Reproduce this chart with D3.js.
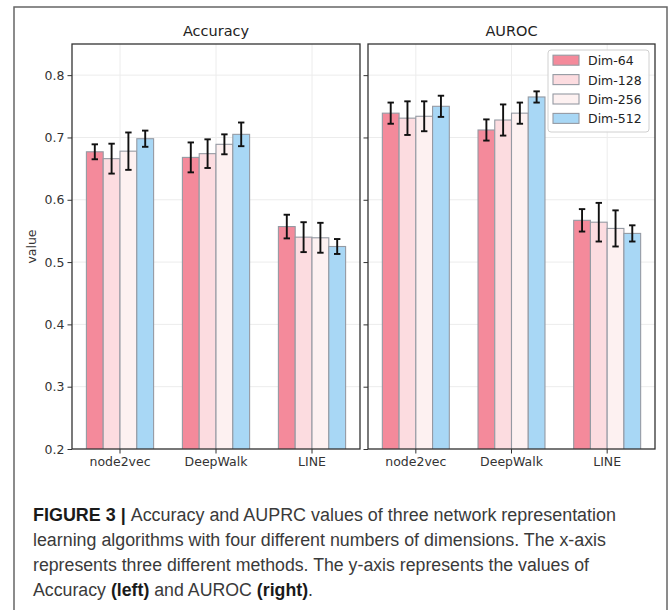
<!DOCTYPE html>
<html>
<head>
<meta charset="utf-8">
<script src="https://cdn.jsdelivr.net/npm/d3@7"></script>
<style>
  html, body { margin: 0; padding: 0; background: #fff; }
  svg { display: block; }
</style>
</head>
<body>
<svg id="chart" width="672" height="610"></svg>
<script>
// ---------- DATA ----------
const methods = ["node2vec", "DeepWalk", "LINE"];
const dims = ["Dim-64", "Dim-128", "Dim-256", "Dim-512"];
const yTicks = [0.2, 0.3, 0.4, 0.5, 0.6, 0.7, 0.8];
const panelTitles = ["Accuracy", "AUROC"];

// values per dimension, ordered as methods
const accuracyMean = {
  "Dim-64":  [0.677, 0.668, 0.557],
  "Dim-128": [0.666, 0.674, 0.540],
  "Dim-256": [0.678, 0.689, 0.539],
  "Dim-512": [0.698, 0.705, 0.525]
};
const accuracyErr = {
  "Dim-64":  [0.012, 0.024, 0.019],
  "Dim-128": [0.024, 0.023, 0.024],
  "Dim-256": [0.030, 0.016, 0.024],
  "Dim-512": [0.013, 0.019, 0.012]
};
const aurocMean = {
  "Dim-64":  [0.739, 0.712, 0.567],
  "Dim-128": [0.731, 0.728, 0.564],
  "Dim-256": [0.734, 0.739, 0.554],
  "Dim-512": [0.750, 0.765, 0.546]
};
const aurocErr = {
  "Dim-64":  [0.017, 0.017, 0.018],
  "Dim-128": [0.027, 0.025, 0.031],
  "Dim-256": [0.024, 0.017, 0.029],
  "Dim-512": [0.017, 0.009, 0.013]
};

const captionLines = [
  [["FIGURE 3 | ", true], ["Accuracy and AUPRC values of three network representation", false]],
  [["learning algorithms with four different numbers of dimensions. The x-axis", false]],
  [["represents three different methods. The y-axis represents the values of", false]],
  [["Accuracy ", false], ["(left)", true], [" and AUROC ", false], ["(right)", true], [".", false]]
];

// ---------- STYLE ----------
const colors = { "Dim-64": "#f48a9b", "Dim-128": "#fcdce0", "Dim-256": "#fdf1f1", "Dim-512": "#a8d7f5" };
const font = "'DejaVu Sans', sans-serif";

const svg = d3.select("#chart");

// outer figure frame
svg.append("rect")
  .attr("x", 14).attr("y", 7).attr("width", 653).attr("height", 640)
  .attr("fill", "none").attr("stroke", "#666").attr("stroke-width", 1.5);

const y = d3.scaleLinear().domain([0.2, 0.85]).range([449, 44]);

const panels = [
  { x0: 72, x1: 360, mean: accuracyMean, err: accuracyErr, title: panelTitles[0], labels: true, legend: false },
  { x0: 368, x1: 655, mean: aurocMean, err: aurocErr, title: panelTitles[1], labels: false, legend: true }
];

panels.forEach((p, pi) => {
  const g = svg.append("g");
  const clipId = "clip" + pi;
  svg.append("clipPath").attr("id", clipId)
    .append("rect").attr("x", p.x0).attr("y", y.range()[1]).attr("width", p.x1 - p.x0).attr("height", y.range()[0] - y.range()[1]);

  const x = d3.scaleBand().domain(methods).range([p.x0, p.x1]).padding(0);
  const bw = x.bandwidth();

  // grid
  const grid = g.append("g").attr("stroke", "#ececec").attr("stroke-width", 1);
  yTicks.forEach(t => {
    grid.append("line").attr("x1", p.x0).attr("x2", p.x1).attr("y1", y(t)).attr("y2", y(t));
  });
  methods.forEach(m => {
    const cx = x(m) + bw / 2;
    grid.append("line").attr("x1", cx).attr("x2", cx).attr("y1", y.range()[0]).attr("y2", y.range()[1]);
  });

  // bars
  const barsG = g.append("g").attr("clip-path", `url(#${clipId})`);
  methods.forEach((m, mi) => {
    const cx = x(m) + bw / 2;
    const inner = d3.scaleBand().domain(dims).range([cx - 0.35 * bw, cx + 0.35 * bw]).padding(0);
    dims.forEach(d => {
      const v = p.mean[d][mi];
      barsG.append("rect")
        .attr("x", inner(d)).attr("width", inner.bandwidth())
        .attr("y", y(v)).attr("height", y(0.15) - y(v))
        .attr("fill", colors[d]).attr("stroke", "#959aa3").attr("stroke-width", 1.1);
    });
    dims.forEach(d => {
      const v = p.mean[d][mi], e = p.err[d][mi];
      const ex = inner(d) + inner.bandwidth() / 2;
      const eg = barsG.append("g").attr("stroke", "#111").attr("stroke-width", 1.9);
      eg.append("line").attr("x1", ex).attr("x2", ex).attr("y1", y(v - e)).attr("y2", y(v + e));
      eg.append("line").attr("x1", ex - 3.2).attr("x2", ex + 3.2).attr("y1", y(v - e)).attr("y2", y(v - e));
      eg.append("line").attr("x1", ex - 3.2).attr("x2", ex + 3.2).attr("y1", y(v + e)).attr("y2", y(v + e));
    });
  });

  // axes
  const yAxis = d3.axisLeft(y).tickValues(yTicks).tickSize(4.5).tickPadding(3)
    .tickFormat(p.labels ? d3.format(".1f") : () => "");
  const ya = g.append("g").attr("transform", `translate(${p.x0},0)`).call(yAxis);
  ya.select(".domain").remove();
  ya.selectAll("line").attr("stroke", "#333").attr("stroke-width", 1);
  ya.selectAll("text").attr("font-family", font).attr("font-size", 12.5).attr("fill", "#333");

  const xAxis = d3.axisBottom(x).tickSize(4.5).tickPadding(4);
  const xa = g.append("g").attr("transform", `translate(0,${y.range()[0]})`).call(xAxis);
  xa.select(".domain").remove();
  xa.selectAll("line").attr("stroke", "#333").attr("stroke-width", 1);
  xa.selectAll("text").attr("font-family", font).attr("font-size", 12.5).attr("fill", "#333");

  // frame
  g.append("rect")
    .attr("x", p.x0).attr("y", y.range()[1]).attr("width", p.x1 - p.x0).attr("height", y.range()[0] - y.range()[1])
    .attr("fill", "none").attr("stroke", "#333").attr("stroke-width", 1.3);

  // title
  g.append("text")
    .attr("x", (p.x0 + p.x1) / 2).attr("y", 36)
    .attr("text-anchor", "middle").attr("font-family", font).attr("font-size", 14.5).attr("fill", "#222")
    .text(p.title);

  // legend
  if (p.legend) {
    const lg = g.append("g");
    lg.append("rect").attr("x", 548).attr("y", 50).attr("width", 101).attr("height", 82).attr("rx", 3)
      .attr("fill", "#fff").attr("fill-opacity", 0.85).attr("stroke", "#d0d0d0").attr("stroke-width", 1);
    dims.forEach((d, i) => {
      const ry = 60.7 + i * 19.4;
      lg.append("rect").attr("x", 553).attr("y", ry - 5.5).attr("width", 26).attr("height", 10)
        .attr("fill", colors[d]).attr("stroke", "#959aa3").attr("stroke-width", 1.1);
      lg.append("text").attr("x", 588).attr("y", ry).attr("dy", "0.36em")
        .attr("font-family", font).attr("font-size", 12.5).attr("fill", "#222").text(d);
    });
  }
});

// y-label
svg.append("text")
  .attr("transform", `translate(36,${(y.range()[0] + y.range()[1]) / 2}) rotate(-90)`)
  .attr("text-anchor", "middle").attr("font-family", font).attr("font-size", 12.5).attr("fill", "#333")
  .text("value");

// caption
const capBase = [521, 546, 571, 596];
const capLen = [583, 573, 556, 280];
captionLines.forEach((parts, i) => {
  const t = svg.append("text")
    .attr("x", 33).attr("y", capBase[i])
    .attr("font-family", "'Liberation Sans Narrow', 'Liberation Sans', Arial, sans-serif")
    .attr("font-size", 18).attr("fill", "#3a3a3a")
    .attr("textLength", capLen[i]).attr("lengthAdjust", "spacingAndGlyphs");
  parts.forEach(([s, bold]) => {
    t.append("tspan").attr("font-weight", bold ? "bold" : "normal").attr("fill", bold ? "#1a1a1a" : "#3a3a3a").text(s);
  });
});
</script>
</body>
</html>
